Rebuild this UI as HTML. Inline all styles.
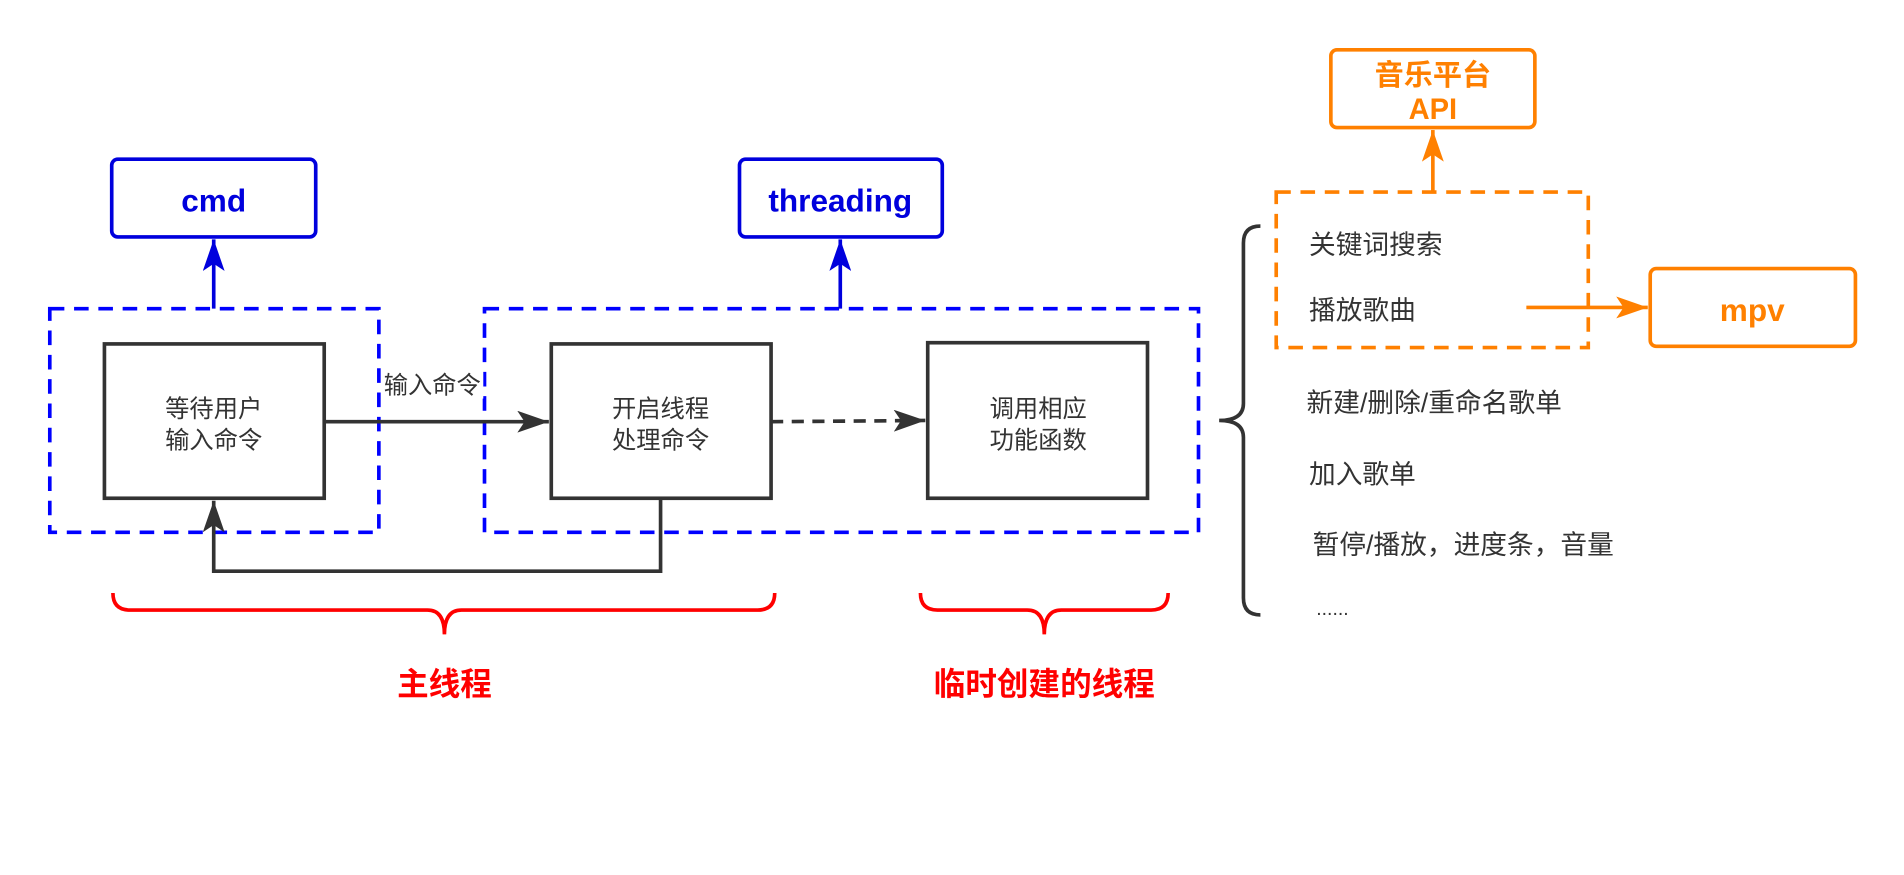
<!DOCTYPE html>
<html><head><meta charset="utf-8"><style>
html,body{margin:0;padding:0;background:#fff;width:1904px;height:875px;overflow:hidden}
svg{display:block}
text{font-family:"Liberation Sans","Noto Sans CJK SC",sans-serif}
</style></head><body>
<svg width="1904" height="875" viewBox="0 0 1568 720" preserveAspectRatio="none" xmlns="http://www.w3.org/2000/svg">
<defs>
<marker id="ab" markerWidth="10" markerHeight="10" refX="9" refY="5" orient="auto" markerUnits="userSpaceOnUse" viewBox="0 0 10 10"><path d="M0,0 L10,5 L0,10 L3,5z" fill="#0000dd"/></marker>
<marker id="ak" markerWidth="26" markerHeight="18" refX="26" refY="9" orient="auto" markerUnits="userSpaceOnUse"><path d="M0,0 L26,9 L0,18 L6,9z" fill="#333"/></marker>
<marker id="ao" markerWidth="26" markerHeight="18" refX="26" refY="9" orient="auto" markerUnits="userSpaceOnUse"><path d="M0,0 L26,9 L0,18 L6,9z" fill="#ff8000"/></marker>
<marker id="ab2" markerWidth="26" markerHeight="18" refX="26" refY="9" orient="auto" markerUnits="userSpaceOnUse"><path d="M0,0 L26,9 L0,18 L6,9z" fill="#0000dd"/></marker>
</defs>
<!-- blue boxes -->
<rect x="92" y="131" width="168" height="64" rx="5" fill="#fff" stroke="#0000dd" stroke-width="3"/>
<text x="176" y="174" text-anchor="middle" font-size="26" font-weight="bold" fill="#0000dd">cmd</text>
<rect x="609" y="131" width="167" height="64" rx="5" fill="#fff" stroke="#0000dd" stroke-width="3"/>
<text x="692" y="174" text-anchor="middle" font-size="26" font-weight="bold" fill="#0000dd">threading</text>
<rect x="41" y="254" width="271" height="184" fill="none" stroke="#0000ff" stroke-width="3" stroke-dasharray="12,8"/>
<rect x="399" y="254" width="588" height="184" fill="none" stroke="#0000ff" stroke-width="3" stroke-dasharray="12,8"/>
<line x1="176" y1="254" x2="176" y2="197" stroke="#0000dd" stroke-width="3" marker-end="url(#ab2)"/>
<line x1="692" y1="254" x2="692" y2="197" stroke="#0000dd" stroke-width="3" marker-end="url(#ab2)"/>
<!-- black boxes -->
<rect x="86" y="283" width="181" height="127" fill="#fff" stroke="#333" stroke-width="3"/>
<text x="176" y="343" text-anchor="middle" font-size="20" fill="#333">等待用户</text>
<text x="176" y="369" text-anchor="middle" font-size="20" fill="#333">输入命令</text>
<rect x="454" y="283" width="181" height="127" fill="#fff" stroke="#333" stroke-width="3"/>
<text x="544" y="343" text-anchor="middle" font-size="20" fill="#333">开启线程</text>
<text x="544" y="369" text-anchor="middle" font-size="20" fill="#333">处理命令</text>
<rect x="764" y="282" width="181" height="128" fill="#fff" stroke="#333" stroke-width="3"/>
<text x="855" y="343" text-anchor="middle" font-size="20" fill="#333">调用相应</text>
<text x="855" y="369" text-anchor="middle" font-size="20" fill="#333">功能函数</text>
<line x1="267" y1="347" x2="452" y2="347" stroke="#333" stroke-width="3" marker-end="url(#ak)"/>
<rect x="314" y="304" width="84" height="24" fill="#fff"/>
<text x="356" y="324" text-anchor="middle" font-size="20" fill="#333">输入命令</text>
<line x1="635" y1="347" x2="762" y2="346" stroke="#333" stroke-width="3" stroke-dasharray="10,7" marker-end="url(#ak)"/>
<polyline points="544,410 544,470 176,470 176,412" fill="none" stroke="#333" stroke-width="3" marker-end="url(#ak)"/>
<!-- red braces -->
<path d="M93,488 Q93,502 107,502 L352,502 Q366,502 366,522 Q366,502 380,502 L624,502 Q638,502 638,488" fill="none" stroke="#ff0000" stroke-width="3"/>
<path d="M758,488 Q758,502 772,502 L846,502 Q860,502 860,522 Q860,502 874,502 L948,502 Q962,502 962,488" fill="none" stroke="#ff0000" stroke-width="3"/>
<text x="366" y="572" text-anchor="middle" font-size="26" font-weight="bold" fill="#ff0000">主线程</text>
<text x="860" y="572" text-anchor="middle" font-size="26" font-weight="bold" fill="#ff0000">临时创建的线程</text>
<!-- orange -->
<rect x="1096" y="41" width="168" height="64" rx="5" fill="#fff" stroke="#ff8000" stroke-width="3"/>
<text x="1180" y="70" text-anchor="middle" font-size="24" font-weight="bold" fill="#ff8000">音乐平台</text>
<text x="1180" y="98" text-anchor="middle" font-size="24" font-weight="bold" fill="#ff8000">API</text>
<rect x="1051" y="158" width="257" height="128" fill="none" stroke="#ff8000" stroke-width="3" stroke-dasharray="12,8"/>
<line x1="1180" y1="158" x2="1180" y2="107" stroke="#ff8000" stroke-width="3" marker-end="url(#ao)"/>
<line x1="1257" y1="253" x2="1357" y2="253" stroke="#ff8000" stroke-width="3" marker-end="url(#ao)"/>
<rect x="1359" y="221" width="169" height="64" rx="5" fill="#fff" stroke="#ff8000" stroke-width="3"/>
<text x="1443" y="264" text-anchor="middle" font-size="26" font-weight="bold" fill="#ff8000">mpv</text>
<!-- black brace -->
<path d="M1038,186 Q1024,186 1024,200 L1024,332 Q1024,346 1004,346 Q1024,346 1024,360 L1024,492 Q1024,506 1038,506" fill="none" stroke="#333" stroke-width="3"/>
<g font-size="22" fill="#333">
<text x="1078" y="209">关键词搜索</text>
<text x="1078" y="263">播放歌曲</text>
<text x="1076" y="339">新建/删除/重命名歌单</text>
<text x="1078" y="398">加入歌单</text>
<text x="1081" y="456">暂停/播放，进度条，音量</text>
<text x="1084" y="506" font-size="16">......</text>
</g>
</svg>
</body></html>
